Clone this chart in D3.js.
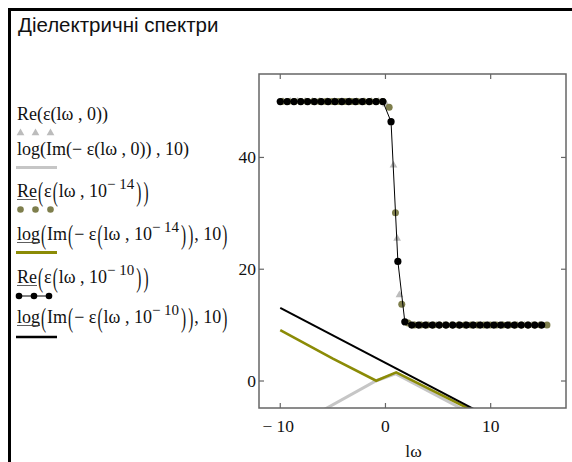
<!DOCTYPE html>
<html><head><meta charset="utf-8">
<script src="https://cdn.jsdelivr.net/npm/d3@7"></script>
<style>body{margin:0;background:#fff}svg{display:block}</style>
</head><body>
<svg id="c" width="572" height="462"></svg>
<script>
// ---- data ----
const xTicks = [-10, 0, 10];
const yTicks = [0, 20, 40];

const grayReX = [-9.74,-9.04,-8.34,-7.64,-6.94,-6.24,-5.54,-4.84,-4.14,-3.44,-2.74,-2.04,-1.34,-0.64,0.06,0.76,1.11,1.33,2.03,2.73,3.43,4.13,4.83,5.53,6.23,6.93,7.63,8.33,9.03,9.73,10.43,11.13,11.83,12.53,13.23,13.93,14.63];
const grayReY = [50,50,50,50,50,50,50,50,50,50,50,50,50,50,49.5,38.6,25.5,15.4,10.3,10,10,10,10,10,10,10,10,10,10,10,10,10,10,10,10,10,10];

const oliveReX = [-9.85,-9.25,-8.65,-8.05,-7.45,-6.85,-6.25,-5.65,-5.05,-4.45,-3.85,-3.25,-2.65,-2.05,-1.45,-0.85,-0.25,0.35,0.95,1.55,2.15,2.75,3.35,3.95,4.55,5.15,5.75,6.35,6.95,7.55,8.15,8.75,9.35,9.95,10.55,11.15,11.75,12.35,12.95,13.55,14.15,14.75,15.35];
const oliveReY = [50,50,50,50,50,50,50,50,50,50,50,50,50,50,50,50,50,49,30.1,13.75,10.4,10,10,10,10,10,10,10,10,10,10,10,10,10,10,10,10,10,10,10,10,10,10];

const blackReX = [-10,-9.35,-8.7,-8.05,-7.4,-6.75,-6.1,-5.45,-4.8,-4.15,-3.5,-2.85,-2.2,-1.55,-0.9,-0.25,0.53,1.18,1.84,2.5,3.15,3.8,4.45,5.1,5.75,6.4,7.05,7.7,8.35,9.0,9.65,10.3,10.95,11.6,12.25,12.9,13.55,14.2,14.85];
const blackReY = [50,50,50,50,50,50,50,50,50,50,50,50,50,50,50,50,46.4,21.4,10.6,10,10,10,10,10,10,10,10,10,10,10,10,10,10,10,10,10,10,10,10];

const grayLogX = [-6.2, -0.88, 0.95, 8.5];
const grayLogY = [-5.5, 0.05, 1.3, -6.2];
const oliveLogX = [-10, -5.0, -0.88, 1.02, 8.5];
const oliveLogY = [9.1, 4.0, 0.05, 1.55, -5.5];
const blackLogX = [-10, 8.5];
const blackLogY = [13.1, -5.12];

const titleText = "Діелектричні спектри";
const xLabel = "lω";

// ---- layout ----
const svg = d3.select("#c");
const L = 259, R = 566, T = 74, B = 408;
const x = d3.scaleLinear().domain([-12.02, 17.16]).range([L, R]);
const y = d3.scaleLinear().domain([-4.83, 54.93]).range([B, T]);
const zip = (a, b) => a.map((v, i) => [v, b[i]]);

// outer frame
svg.append("path").attr("d", "M9.5,462 V9.5 H572").attr("fill", "none")
  .attr("stroke", "#000").attr("stroke-width", 3);

svg.append("text").attr("x", 18).attr("y", 32)
  .attr("font-family", "Liberation Sans, Arial, sans-serif").attr("font-size", 20.5)
  .attr("fill", "#111").text(titleText);

// clip
svg.append("clipPath").attr("id", "pc").append("rect")
  .attr("x", L).attr("y", T).attr("width", R - L).attr("height", B - T);
const g = svg.append("g").attr("clip-path", "url(#pc)");

const line = d3.line().x(d => x(d[0])).y(d => y(d[1]));

// trace 1 gray triangles
const tri = d3.symbol().type(d3.symbolTriangle).size(26);
g.selectAll(".gt").data(zip(grayReX, grayReY)).join("path")
  .attr("transform", d => `translate(${x(d[0])},${y(d[1])})`)
  .attr("d", tri).attr("fill", "#bcbcbc");
// trace 2 gray log line
g.append("path").attr("d", line(zip(grayLogX, grayLogY))).attr("fill", "none")
  .attr("stroke", "#c6c6c6").attr("stroke-width", 3);
// trace 3 olive dots
g.selectAll(".od").data(zip(oliveReX, oliveReY)).join("circle")
  .attr("cx", d => x(d[0])).attr("cy", d => y(d[1])).attr("r", 3.5).attr("fill", "#7e7e4c");
// trace 4 olive log line
g.append("path").attr("d", line(zip(oliveLogX, oliveLogY))).attr("fill", "none")
  .attr("stroke", "#8b8b06").attr("stroke-width", 2.6);
// trace 5 black Re line + dots
g.append("path").attr("d", line(zip(blackReX, blackReY))).attr("fill", "none")
  .attr("stroke", "#000").attr("stroke-width", 1);
g.selectAll(".bd").data(zip(blackReX, blackReY)).join("circle")
  .attr("cx", d => x(d[0])).attr("cy", d => y(d[1])).attr("r", 3.6).attr("fill", "#000");
// trace 6 black log line
g.append("path").attr("d", line(zip(blackLogX, blackLogY))).attr("fill", "none")
  .attr("stroke", "#000").attr("stroke-width", 2);

// plot frame
svg.append("rect").attr("x", L).attr("y", T).attr("width", R - L).attr("height", B - T)
  .attr("fill", "none").attr("stroke", "#666").attr("stroke-width", 1.5);

// ticks
const tk = 5;
const serif = "Liberation Serif, Times New Roman, serif";
const TFS = 17.5;
xTicks.forEach(v => {
  svg.append("line").attr("x1", x(v)).attr("x2", x(v)).attr("y1", B).attr("y2", B - tk).attr("stroke", "#666").attr("stroke-width", 1.2);
  svg.append("line").attr("x1", x(v)).attr("x2", x(v)).attr("y1", T).attr("y2", T + tk).attr("stroke", "#666").attr("stroke-width", 1.2);
  svg.append("text").attr("x", x(v) - (v < 0 ? 2 : 0)).attr("y", 432).attr("text-anchor", "middle")
    .attr("font-family", serif).attr("font-size", TFS).attr("fill", "#111")
    .text(v < 0 ? "\u2212 " + Math.abs(v) : String(v));
});
yTicks.forEach(v => {
  svg.append("line").attr("x1", L).attr("x2", L + tk).attr("y1", y(v)).attr("y2", y(v)).attr("stroke", "#666").attr("stroke-width", 1.2);
  svg.append("line").attr("x1", R).attr("x2", R - tk).attr("y1", y(v)).attr("y2", y(v)).attr("stroke", "#666").attr("stroke-width", 1.2);
  svg.append("text").attr("x", 256).attr("y", y(v) + 6).attr("text-anchor", "end")
    .attr("font-family", serif).attr("font-size", TFS).attr("fill", "#111").text(v);
});
svg.append("text").attr("x", (L + R) / 2 + 1).attr("y", 457).attr("text-anchor", "middle")
  .attr("font-family", serif).attr("font-size", TFS).attr("fill", "#111").text(xLabel);

// ---- legend ----
const FS = 18;
function legendText(tokens, x0, base) {
  let cx = x0;
  const lg = svg.append("g");
  tokens.forEach(tok => {
    if (tok.big) {
      cx += 1;
      const t = lg.append("text").attr("font-family", serif).attr("font-size", FS).attr("fill", "#111").text(tok.t);
      const w = t.node().getComputedTextLength() * 0.85;
      t.attr("transform", `translate(${cx},${base + 4}) scale(0.85,1.5)`);
      cx += w + 1;
    } else if (tok.sup) {
      const t = lg.append("text").attr("x", cx).attr("y", base - 8).attr("font-family", serif)
        .attr("font-size", 15).attr("fill", "#111").text(tok.t);
      cx += t.node().getComputedTextLength() + 1;
    } else {
      const t = lg.append("text").attr("x", cx).attr("y", base).attr("font-family", serif)
        .attr("font-size", FS).attr("fill", "#111").text(tok.t);
      const w = t.node().getComputedTextLength();
      if (tok.u) lg.append("line").attr("x1", cx).attr("x2", cx + w).attr("y1", base + 2.5).attr("y2", base + 2.5)
        .attr("stroke", "#333").attr("stroke-width", 0.8);
      cx += w;
    }
  });
}
const N = t => ({t}), U = t => ({t, u: true}), Bg = t => ({t, big: true}), S = t => ({t, sup: true});
legendText([N("Re(ε(lω , 0))")], 17, 120);
legendText([N("log(Im(− ε(lω , 0)) , 10)")], 17, 155);
legendText([U("Re"), Bg("("), N("ε"), Bg("("), N("lω , 10"), S("− 14"), Bg(")"), Bg(")")], 17, 197);
legendText([U("log"), Bg("("), N("Im"), Bg("("), N("− ε"), Bg("("), N("lω , 10"), S("− 14"), Bg(")"), Bg(")"), N(" , 10"), Bg(")")], 17, 240);
legendText([U("Re"), Bg("("), N("ε"), Bg("("), N("lω , 10"), S("− 10"), Bg(")"), Bg(")")], 17, 283);
legendText([U("log"), Bg("("), N("Im"), Bg("("), N("− ε"), Bg("("), N("lω , 10"), S("− 10"), Bg(")"), Bg(")"), N(" , 10"), Bg(")")], 17, 323);

const legMarkX = [20.5, 35.5, 50.5];
legMarkX.forEach(mx => svg.append("path").attr("transform", `translate(${mx},133)`).attr("d", tri).attr("fill", "#bcbcbc"));
svg.append("line").attr("x1", 16).attr("x2", 57).attr("y1", 167.5).attr("y2", 167.5).attr("stroke", "#c6c6c6").attr("stroke-width", 3);
legMarkX.forEach(mx => svg.append("circle").attr("cx", mx).attr("cy", 209.5).attr("r", 3.3).attr("fill", "#7e7e4c"));
svg.append("line").attr("x1", 16).attr("x2", 57).attr("y1", 252.5).attr("y2", 252.5).attr("stroke", "#8b8b06").attr("stroke-width", 3);
svg.append("line").attr("x1", 18).attr("x2", 52).attr("y1", 296).attr("y2", 296).attr("stroke", "#000").attr("stroke-width", 1);
legMarkX.forEach(mx => svg.append("circle").attr("cx", mx - 1.5).attr("cy", 296).attr("r", 3.3).attr("fill", "#000"));
svg.append("line").attr("x1", 16).attr("x2", 57).attr("y1", 337).attr("y2", 337).attr("stroke", "#000").attr("stroke-width", 2.5);
</script>
</body></html>
